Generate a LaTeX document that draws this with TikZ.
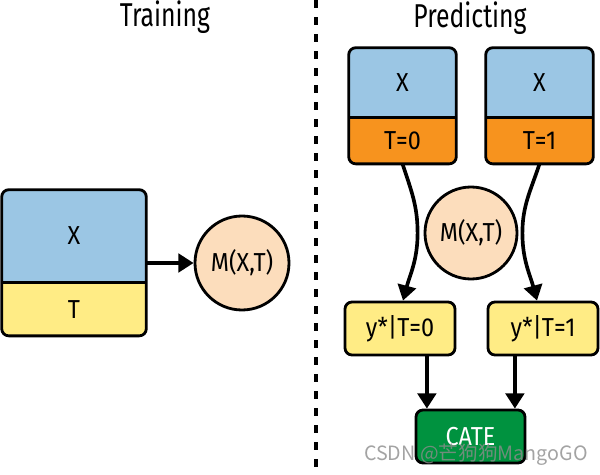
\documentclass[tikz,border=0pt]{standalone}
\usepackage{fontspec}
\setmainfont{Fira Sans}[FakeStretch=0.9]
\newfontfamily\titlefont{Fira Sans}[FakeStretch=0.75]
\newfontfamily\cjkfont{Noto Sans CJK SC}
\usetikzlibrary{arrows.meta,positioning,calc,backgrounds}
\definecolor{xblue}{HTML}{9BC6E4}
\definecolor{tyellow}{HTML}{FFEC85}
\definecolor{torange}{HTML}{F7931E}
\definecolor{mpeach}{HTML}{FCDDBC}
\definecolor{cgreen}{HTML}{00923F}

\begin{document}
\begin{tikzpicture}[
  part/.style={rectangle, inner sep=0pt, font=\fontsize{18.5}{20}\selectfont},
  outline/.style={draw=black, line width=2pt},
  model/.style={circle, draw=black, line width=2pt, fill=mpeach,
                inner sep=0pt, font=\fontsize{18.5}{20}\selectfont},
  result/.style={rectangle, draw=black, line width=2pt, rounded corners=5pt,
                 fill=tyellow, minimum width=2.75cm, minimum height=1.325cm,
                 inner sep=0pt, font=\fontsize{18.5}{20}\selectfont},
  title/.style={font=\titlefont\fontsize{23.5}{25}\selectfont},
  arrow/.style={draw, line width=2.6pt, -{Triangle[length=0.38cm,width=0.46cm]}},
  watermark/.style={font=\cjkfont\fontsize{14}{16}\selectfont, text=black!45,
                    text opacity=0.8},
]
  \useasboundingbox (0,0) rectangle (15,11.85);

  % Column titles and divider
  \node[title] (traintitle) at (4.125, 11.425) {Training};
  \node[title] (predtitle) at (11.75, 11.4) {Predicting};
  \coordinate (divtop) at (7.9, 11.85);
  \coordinate (divbot) at (7.9, 0);
  \draw[line width=3pt, dash pattern=on 0.2cm off 0.225cm] (divtop) -- (divbot);

  % Training: stacked X / T input and the model
  \node[part, minimum width=3.6cm, minimum height=2.3cm] (xtrain) at (1.85, 5.95) {X};
  \node[part, minimum width=3.6cm, minimum height=1.325cm, below=0pt of xtrain] (ttrain) {T};
  \node[model, minimum size=2.35cm] (mtrain) at (6.05, 5.275) {M(X,T)};

  % Predicting: two inputs with fixed treatment
  \node[part, minimum width=2.675cm, minimum height=1.725cm] (xzero) at (10.0625, 9.7875) {X};
  \node[part, minimum width=2.675cm, minimum height=1.15cm, below=0pt of xzero] (tzero) {T=0};
  \node[part, minimum width=2.675cm, minimum height=1.725cm] (xone) at (13.4875, 9.7875) {X};
  \node[part, minimum width=2.675cm, minimum height=1.15cm, below=0pt of xone] (tone) {T=1};

  % fills and outlines of the stacked boxes
  \foreach \xp/\tp/\col in {xtrain/ttrain/tyellow, xzero/tzero/torange, xone/tone/torange}{
    \begin{scope}[on background layer]
      \begin{scope}
        \clip[rounded corners=5pt] (\xp.north west) rectangle (\tp.south east);
        \fill[xblue] (\xp.north west) rectangle (\xp.south east);
        \fill[\col] (\tp.north west) rectangle (\tp.south east);
      \end{scope}
    \end{scope}
    \draw[outline, rounded corners=5pt] (\xp.north west) rectangle (\tp.south east);
    \draw[outline] (\xp.south west) -- (\xp.south east);
  }

  \node[model, minimum size=2.3cm] (mpred) at (11.775, 6.025) {M(X,T)};
  \node[result] (yzero) at (10.0, 3.6375) {y*|T=0};
  \node[result] (yone) at (13.575, 3.6375) {y*|T=1};
  \node[result, fill=cgreen, text=white, minimum width=2.725cm] (cate) at (11.7625, 0.9375) {CATE};

  % Connectors
  \draw[arrow] (xtrain.east |- mtrain) -- (mtrain.west);
  \draw[arrow] (tzero.south) to[out=-72, in=90] ([xshift=-0.15cm]mpred.west)
        to[out=-90, in=75] ([xshift=0.075cm]yzero.north);
  \draw[arrow] (tone.south) to[out=-108, in=90] ([xshift=0.1cm]mpred.east)
        to[out=-90, in=105] ([xshift=-0.15cm]yone.north);
  \draw[arrow] ([xshift=-1.09cm]cate.north |- yzero.south) -- ([xshift=-1.09cm]cate.north);
  \draw[arrow] ([xshift=1.11cm]cate.north |- yone.south) -- ([xshift=1.11cm]cate.north);

  \node[watermark] (mark) at (11.9, 0.475) {CSDN @芒狗狗MangoGO};
\end{tikzpicture}
\end{document}
